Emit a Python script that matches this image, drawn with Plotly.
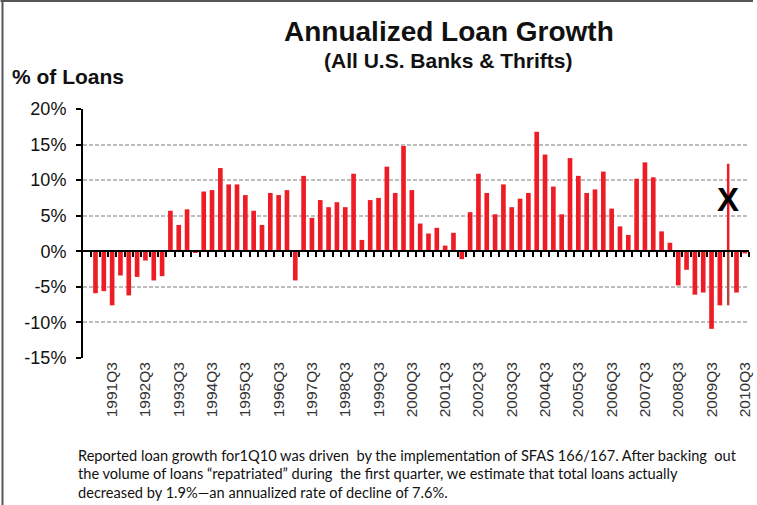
import plotly.graph_objects as go

# Quarterly annualized loan growth, 1991Q1 - 2010Q3 (% of loans)
years = list(range(1991, 2011))
quarters = [f"{y}Q{q}" for y in years for q in range(1, 5)][:79]

growth = [
    -5.9, -5.6, -7.6, -3.4,    # 1991
    -6.2, -3.6, -1.3, -4.1,    # 1992
    -3.5, 5.7, 3.7, 5.9,       # 1993
    -0.2, 8.4, 8.6, 11.7,      # 1994
    9.4, 9.4, 7.9, 5.7,        # 1995
    3.7, 8.2, 7.9, 8.6,        # 1996
    -4.1, 10.6, 4.7, 7.2,      # 1997
    6.2, 6.9, 6.2, 10.9,       # 1998
    1.6, 7.2, 7.5, 11.9,       # 1999
    8.2, 14.8, 8.6, 3.9,       # 2000
    2.5, 3.3, 0.8, 2.6,        # 2001
    -1.1, 5.5, 10.9, 8.2,      # 2002
    5.2, 9.4, 6.2, 7.4,        # 2003
    8.2, 16.8, 13.6, 9.1,      # 2004
    5.2, 13.1, 10.6, 8.2,      # 2005
    8.7, 11.2, 6.0, 3.5,       # 2006
    2.3, 10.2, 12.5, 10.4,     # 2007
    2.8, 1.2, -4.8, -2.6,      # 2008
    -6.1, -5.8, -10.9, -7.6,   # 2009
    12.3, -5.8, -0.3,          # 2010
]

# 1Q10 after backing out loans repatriated under SFAS 166/167
adjusted_quarter = "2010Q1"
adjusted_value = -7.6

label_quarters = [q for q in quarters if q.endswith("Q3")]
y_ticks = [-15, -10, -5, 0, 5, 10, 15, 20]

footnote = [
    "Reported loan growth for1Q10 was driven  by the implementation of SFAS 166/167. After backing  out",
    "the volume of loans \u201crepatriated\u201d during  the first quarter, we estimate that total loans actually",
    "decreased by 1.9%\u2014an annualized rate of decline of 7.6%.",
]

W, H = 757, 505
L, R, T, B = 83, 4, 109, 147
PW, PH = W - L - R, H - T - B


def px_x(px):
    return (px - L) / PW


def px_y(py):
    return (H - B - py) / PH


idx = list(range(len(quarters)))
adj_i = quarters.index(adjusted_quarter)
THIN = 0.3
widths = [THIN if i == adj_i else 0.56 for i in idx]
RED = "#EE1D25"

fig = go.Figure()
fig.add_trace(go.Bar(
    x=idx, y=growth, width=widths,
    marker=dict(color=RED, line=dict(width=0)),
    xaxis="x", yaxis="y", showlegend=False,
))
fig.add_trace(go.Bar(
    x=[adj_i], y=[adjusted_value], width=[THIN],
    marker=dict(color="#B8453F", line=dict(width=0)),
    xaxis="x2", yaxis="y", showlegend=False,
))

xrange = [-1.5, len(quarters) - 0.5]
zero_pos = (0 - y_ticks[0]) / (y_ticks[-1] - y_ticks[0])

fig.update_layout(
    width=W, height=H,
    margin=dict(l=L, r=R, t=T, b=B, pad=0),
    paper_bgcolor="white", plot_bgcolor="white",
    font=dict(family="Liberation Sans, Arial, sans-serif", color="#111"),
    barmode="overlay",
    xaxis=dict(
        range=xrange, tickmode="array",
        tickvals=[quarters.index(q) for q in label_quarters],
        ticktext=label_quarters, tickangle=-90,
        tickfont=dict(size=15.5, color="#333"),
        ticks="", showgrid=False, zeroline=False, showline=False,
    ),
    xaxis2=dict(
        range=xrange, overlaying="x", anchor="free", position=zero_pos,
        side="bottom", showline=True, linecolor="black", linewidth=2,
        ticks="outside", ticklen=5, tickwidth=2, tickcolor="black",
        tickmode="array", tickvals=[i - 0.5 for i in range(0, len(quarters) + 1)],
        showticklabels=False, showgrid=False, zeroline=False,
    ),
    yaxis=dict(
        range=[y_ticks[0], y_ticks[-1]], tickmode="array", tickvals=y_ticks,
        ticktext=[f"{v}%" for v in y_ticks],
        tickfont=dict(size=18, color="#111"),
        showline=True, linecolor="black", linewidth=2,
        ticks="outside", ticklen=5, tickwidth=2, tickcolor="black",
        ticklabelstandoff=6,
        showgrid=True, gridcolor="#bdbdbd", gridwidth=2, griddash="4px,2px",
        zeroline=False,
    ),
)

annotations = [
    dict(text="<b>Annualized Loan Growth</b>", x=px_x(451), y=px_y(32),
         font=dict(size=28, color="#111")),
    dict(text="<b>(All U.S. Banks &amp; Thrifts)</b>", x=px_x(451), y=px_y(60),
         font=dict(size=21, color="#111")),
    dict(text="<b>% of Loans</b>", x=px_x(10), y=px_y(77), xanchor="left",
         font=dict(size=21, color="#111")),
]
for k, line in enumerate(footnote):
    annotations.append(dict(
        text=line, x=px_x(76), y=px_y(455 + 18.5 * k), xanchor="left",
        font=dict(family="Lato, Carlito, sans-serif", size=14.6, color="#111"),
    ))
for a in annotations:
    a.update(xref="paper", yref="paper", showarrow=False)
    a.setdefault("xanchor", "center")
    a.setdefault("yanchor", "middle")

# Marker over the 1Q10 bar
annotations.append(dict(
    text="<b>X</b>", x=adj_i, y=7.3, xref="x", yref="y", showarrow=False,
    font=dict(size=33, color="black"), xanchor="center", yanchor="middle",
))
fig.update_layout(annotations=annotations)

# Frame around the slide area
fig.update_layout(shapes=[
    dict(type="line", xref="paper", yref="paper", x0=px_x(0), x1=px_x(W),
         y0=px_y(1), y1=px_y(1), line=dict(color="#555", width=2)),
    dict(type="line", xref="paper", yref="paper", x0=px_x(2), x1=px_x(2),
         y0=px_y(0), y1=px_y(H), line=dict(color="#555", width=2)),
])

fig.write_html("out.html")
